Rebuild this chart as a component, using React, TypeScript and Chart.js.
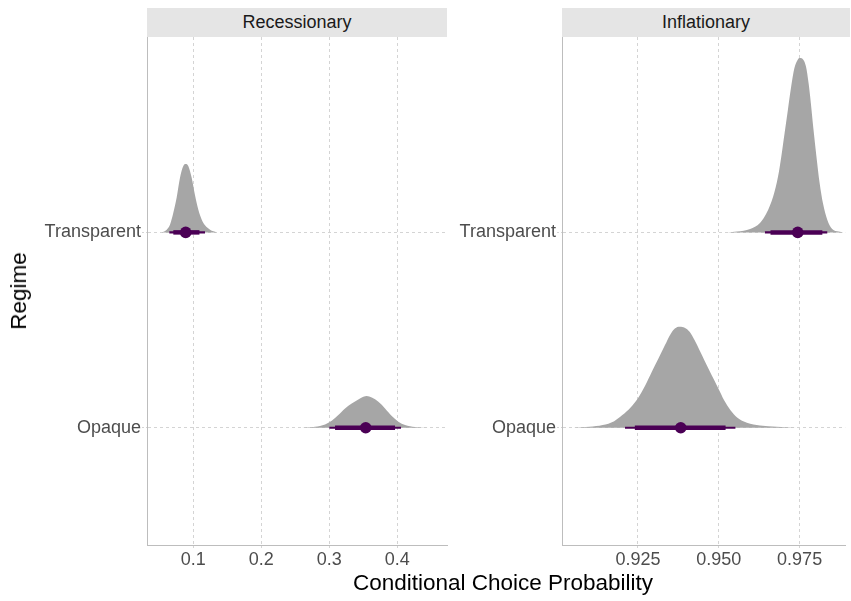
import React, { useEffect, useRef } from "react";
import { Chart, registerables } from "chart.js";
Chart.register(...registerables);

// ---------- data ----------
const categories = ["Opaque", "Transparent"];
const categoryPositions = [1, 2];
const panelTitles = ["Recessionary", "Inflationary"];
const xTitle = "Conditional Choice Probability";
const yTitle = "Regime";

const recTicks = [0.1, 0.2, 0.3, 0.4];
const recTickLabels = ["0.1", "0.2", "0.3", "0.4"];
const infTicks = [0.925, 0.95, 0.975];
const infTickLabels = ["0.925", "0.950", "0.975"];

// Recessionary / Transparent density (x, relative height)
const recTransX = [0.0535, 0.0609, 0.0657, 0.0706, 0.0756, 0.0804, 0.0853, 0.0888, 0.0926, 0.0976, 0.1025, 0.1074, 0.1124, 0.1172, 0.1246, 0.1344];
const recTransH = [0, 0.014, 0.039, 0.1, 0.18, 0.28, 0.34, 0.35, 0.34, 0.28, 0.19, 0.116, 0.065, 0.036, 0.014, 0];
// Recessionary / Opaque density
const recOpaqX = [0.2594, 0.279, 0.2937, 0.3035, 0.3132, 0.3231, 0.3329, 0.3426, 0.35, 0.355, 0.3624, 0.3721, 0.3819, 0.3918, 0.4015, 0.4113, 0.426, 0.4456];
const recOpaqH = [0, 0.005, 0.017, 0.036, 0.065, 0.099, 0.124, 0.145, 0.159, 0.162, 0.155, 0.133, 0.099, 0.06, 0.031, 0.014, 0.004, 0];
// Inflationary / Transparent density
const infTransX = [0.95262, 0.95566, 0.9597, 0.96274, 0.96478, 0.96682, 0.96834, 0.96934, 0.97035, 0.97138, 0.97239, 0.97339, 0.97442, 0.97512, 0.97613, 0.97695, 0.97777, 0.97847, 0.97929, 0.9802, 0.9812, 0.98221, 0.98355, 0.98507, 0.98708, 0.9886];
const infTransH = [0, 0.004, 0.017, 0.048, 0.099, 0.184, 0.287, 0.389, 0.508, 0.628, 0.747, 0.841, 0.884, 0.892, 0.884, 0.85, 0.764, 0.662, 0.526, 0.389, 0.252, 0.15, 0.065, 0.017, 0.004, 0];
// Inflationary / Opaque density
const infOpaqX = [0.90496, 0.91004, 0.91408, 0.91764, 0.92016, 0.92272, 0.92494, 0.92728, 0.92929, 0.93133, 0.93336, 0.93488, 0.93641, 0.93793, 0.93945, 0.94097, 0.94249, 0.94401, 0.94553, 0.94705, 0.94857, 0.95009, 0.95161, 0.95362, 0.95566, 0.9587, 0.96274, 0.96782, 0.97391];
const infOpaqH = [0, 0.005, 0.014, 0.034, 0.065, 0.104, 0.15, 0.218, 0.287, 0.355, 0.423, 0.474, 0.508, 0.517, 0.512, 0.491, 0.449, 0.398, 0.346, 0.295, 0.244, 0.193, 0.142, 0.09, 0.053, 0.026, 0.012, 0.005, 0];

// intervals: [lo95, lo66, median, hi66, hi95]
const recTransInt = [0.0647, 0.0706, 0.0888, 0.109, 0.1172];
const recOpaqInt = [0.3, 0.3084, 0.3535, 0.3966, 0.4054];
const infTransInt = [0.96426, 0.966, 0.97442, 0.98203, 0.98355];
const infOpaqInt = [0.92099, 0.92403, 0.93823, 0.9521, 0.95514];

// ---------- style ----------
const FONT = "'Liberation Sans', Arial, Helvetica, sans-serif";
const SLAB = "#A6A6A6";
const PURPLE = "#4B0055";
const GRID = "#D4D4D4";
const AXIS = "#BDBDBD";
const TICKTXT = "#4D4D4D";

type PanelSpec = {
  xMin: number;
  xMax: number;
  ticks: number[];
  tickLabels: string[];
  dens: { x: number[]; h: number[]; base: number }[];
  ints: { v: number[]; base: number }[];
  yAxisWidth: number;
  padRight: number;
};

function buildDatasets(spec: PanelSpec) {
  const ds: any[] = [];
  spec.dens.forEach((d) => {
    ds.push({
      type: "line",
      data: d.x.map((x, i) => ({ x, y: d.base + d.h[i] })),
      borderWidth: 0,
      borderColor: SLAB,
      backgroundColor: SLAB,
      pointRadius: 0,
      fill: { value: d.base },
      cubicInterpolationMode: "monotone",
      order: 3,
    });
  });
  spec.ints.forEach((it) => {
    ds.push({
      type: "line",
      data: [{ x: it.v[0], y: it.base }, { x: it.v[4], y: it.base }],
      borderColor: PURPLE,
      borderWidth: 2.2,
      borderCapStyle: "butt",
      pointRadius: 0,
      fill: false,
      order: 2,
    });
    ds.push({
      type: "line",
      data: [{ x: it.v[1], y: it.base }, { x: it.v[3], y: it.base }],
      borderColor: PURPLE,
      borderWidth: 4.5,
      borderCapStyle: "butt",
      pointRadius: 0,
      fill: false,
      order: 1,
    });
    ds.push({
      type: "scatter",
      data: [{ x: it.v[2], y: it.base }],
      backgroundColor: PURPLE,
      borderColor: PURPLE,
      borderWidth: 0,
      pointRadius: 5.8,
      order: 0,
    });
  });
  return ds;
}

function Panel({ spec, style }: { spec: PanelSpec; style: React.CSSProperties }) {
  const ref = useRef<HTMLCanvasElement | null>(null);
  useEffect(() => {
    if (!ref.current) return;
    const chart = new Chart(ref.current, {
      type: "line",
      data: { datasets: buildDatasets(spec) },
      options: {
        animation: false,
        responsive: false,
        maintainAspectRatio: false,
        layout: { padding: { top: 37, right: spec.padRight, left: 0, bottom: 0 } },
        plugins: { legend: { display: false }, tooltip: { enabled: false } },
        scales: {
          x: {
            type: "linear",
            min: spec.xMin,
            max: spec.xMax,
            afterBuildTicks: (s: any) => {
              s.ticks = spec.ticks.map((v) => ({ value: v }));
            },
            afterFit: (s: any) => {
              s.height = 56;
            },
            ticks: {
              callback: (_v: any, i: number) => spec.tickLabels[i],
              color: TICKTXT,
              font: { family: FONT, size: 18 },
              padding: 0,
              maxRotation: 0,
              autoSkip: false,
            },
            grid: {
              color: GRID,
              lineWidth: 1,
              drawTicks: true,
              tickLength: 4,
              tickColor: GRID,
              tickBorderDash: [2, 2],
            },
            border: { display: true, color: AXIS, width: 1, dash: [3, 3] },
          },
          y: {
            type: "linear",
            min: 0.4,
            max: 3.0,
            afterBuildTicks: (s: any) => {
              s.ticks = categoryPositions.map((v) => ({ value: v }));
            },
            afterFit: (s: any) => {
              s.width = spec.yAxisWidth;
            },
            ticks: {
              callback: (v: any) => categories[categoryPositions.indexOf(Number(v))],
              color: TICKTXT,
              font: { family: FONT, size: 18 },
              padding: 1,
              autoSkip: false,
            },
            grid: {
              color: GRID,
              lineWidth: 1,
              drawTicks: true,
              tickLength: 5,
              tickColor: GRID,
              tickBorderDash: [2, 2],
            },
            border: { display: true, color: AXIS, width: 1, dash: [3, 3] },
          },
        },
      } as any,
    });
    return () => chart.destroy();
  }, []);
  return (
    <canvas
      ref={ref}
      width={style.width as number}
      height={style.height as number}
      style={{ position: "absolute", ...style }}
    />
  );
}

const recSpec: PanelSpec = {
  xMin: 0.0319,
  xMax: 0.473,
  ticks: recTicks,
  tickLabels: recTickLabels,
  dens: [
    { x: recTransX, h: recTransH, base: 2 },
    { x: recOpaqX, h: recOpaqH, base: 1 },
  ],
  ints: [
    { v: recTransInt, base: 2 },
    { v: recOpaqInt, base: 1 },
  ],
  yAxisWidth: 147,
  padRight: 8,
};

const infSpec: PanelSpec = {
  xMin: 0.9015,
  xMax: 0.9891,
  ticks: infTicks,
  tickLabels: infTickLabels,
  dens: [
    { x: infTransX, h: infTransH, base: 2 },
    { x: infOpaqX, h: infOpaqH, base: 1 },
  ],
  ints: [
    { v: infTransInt, base: 2 },
    { v: infOpaqInt, base: 1 },
  ],
  yAxisWidth: 107,
  padRight: 1,
};

const stripStyle: React.CSSProperties = {
  position: "absolute",
  top: 8,
  height: 29,
  background: "#E5E5E5",
  color: "#1A1A1A",
  fontFamily: FONT,
  fontSize: 18,
  display: "flex",
  alignItems: "center",
  justifyContent: "center",
};

export default function App() {
  return (
    <div
      style={{
        position: "fixed",
        left: 0,
        top: 0,
        width: 851,
        height: 601,
        background: "#FFFFFF",
        overflow: "hidden",
      }}
    >
      <Panel spec={recSpec} style={{ left: 0, top: 0, width: 455, height: 601 }} />
      <Panel spec={infSpec} style={{ left: 455, top: 0, width: 396, height: 601 }} />
      <div style={{ ...stripStyle, left: 147, width: 300 }}>{panelTitles[0]}</div>
      <div style={{ ...stripStyle, left: 562, width: 288 }}>{panelTitles[1]}</div>
      <div
        style={{
          position: "absolute",
          left: 503,
          top: 570,
          transform: "translateX(-50%)",
          whiteSpace: "nowrap",
          fontFamily: FONT,
          fontSize: 22.5,
          color: "#000000",
          lineHeight: "26px",
        }}
      >
        {xTitle}
      </div>
      <div
        style={{
          position: "absolute",
          left: 19,
          top: 291,
          transform: "translate(-50%, -50%) rotate(-90deg)",
          fontFamily: FONT,
          fontSize: 22.5,
          color: "#000000",
          whiteSpace: "nowrap",
          lineHeight: "26px",
        }}
      >
        {yTitle}
      </div>
    </div>
  );
}
